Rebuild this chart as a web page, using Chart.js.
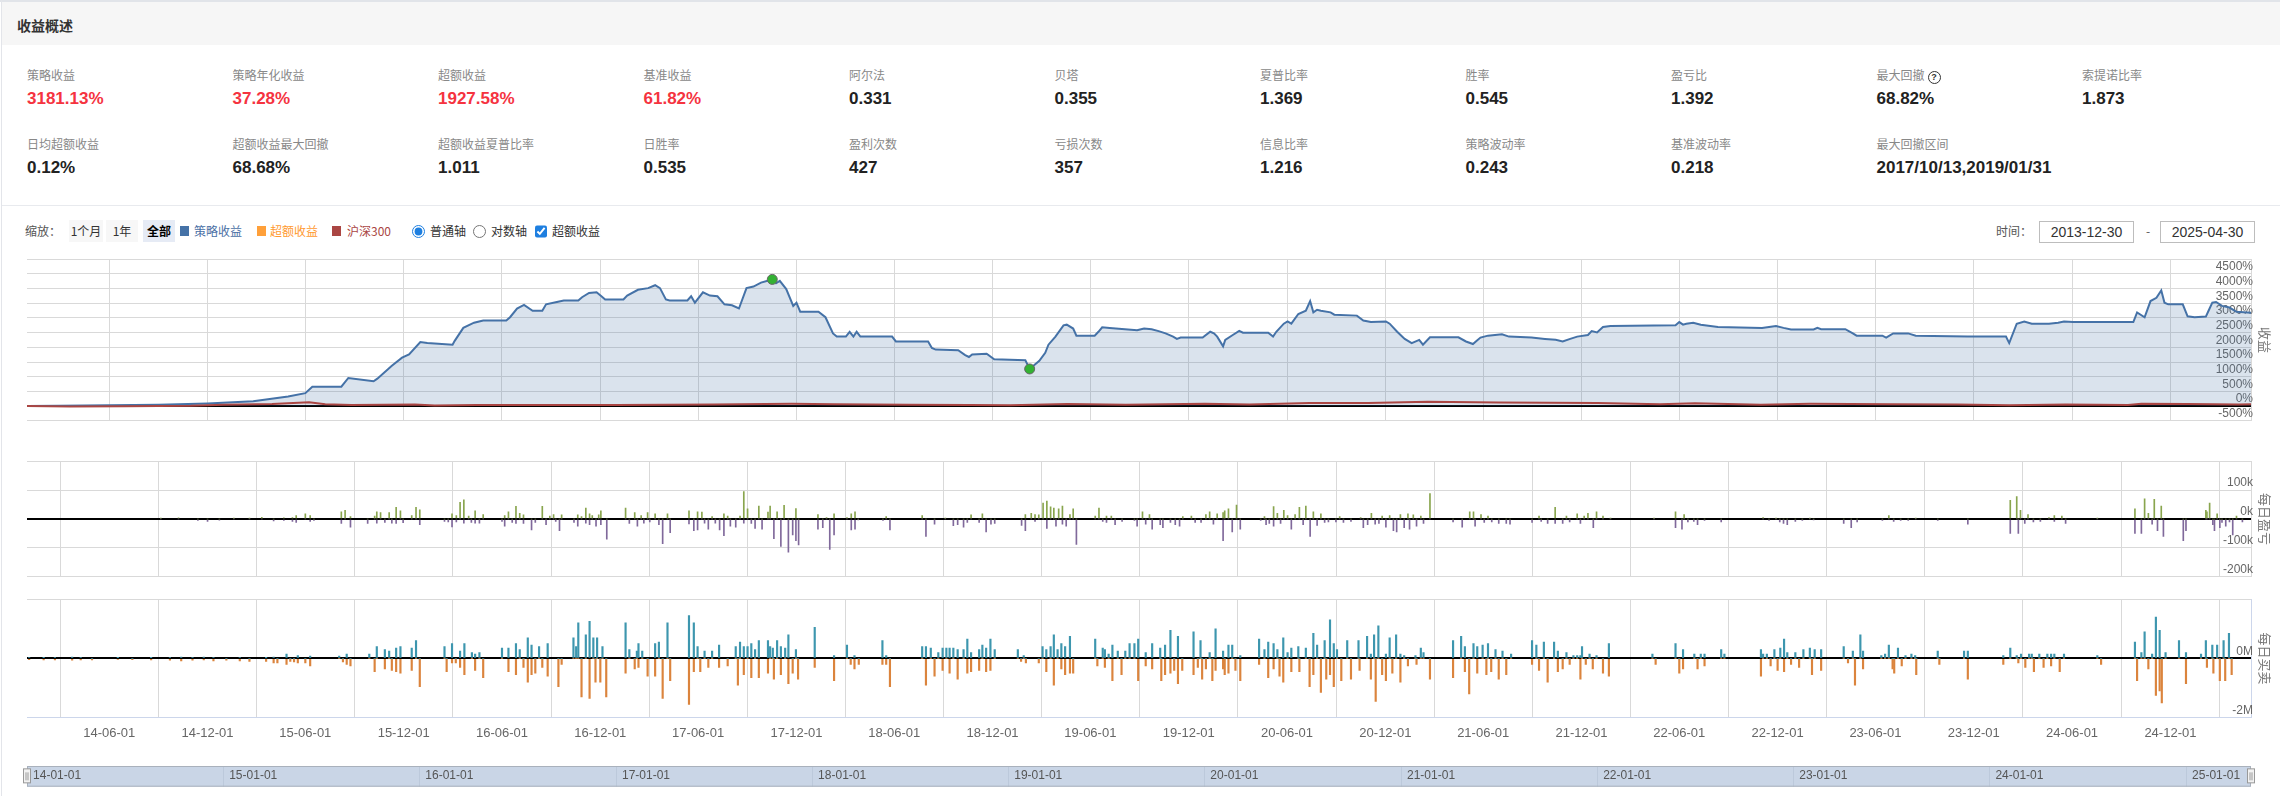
<!DOCTYPE html>
<html>
<head>
<meta charset="utf-8">
<script src="https://cdn.jsdelivr.net/npm/chart.js@4.4.1/dist/chart.umd.min.js"></script>
<style>
  body { margin: 0; background: #fff; font-family: "Noto Sans CJK SC", "Liberation Sans", sans-serif; }
  #page { position: relative; width: 2280px; height: 796px; overflow: hidden; background: #fff; }
  .abs { position: absolute; white-space: nowrap; }
  .frame-top { left: 0; top: 0; width: 2280px; height: 2px; background: #e1e4e9; }
  .frame-left { left: 1px; top: 0; width: 1px; height: 796px; background: #e3e5ea; }
  .head { left: 2px; top: 2px; width: 2278px; height: 43px; background: #f6f6f6; }
  .head span { position: absolute; left: 15px; top: 0; line-height: 46px; font-size: 14px; font-weight: bold; color: #333; }
  .sep { left: 2px; top: 205px; width: 2278px; height: 1px; background: #e8eaee; }
  .lbl { font-size: 12px; line-height: 16px; color: #888; }
  .val { font: bold 17px "Liberation Sans", "Noto Sans CJK SC", sans-serif; line-height: 20px; color: #222; }
  .val.red { color: #f5333f; }
  .help { display: inline-block; width: 11px; height: 11px; border: 1px solid #333; border-radius: 50%;
          font: bold 9px "Liberation Sans", sans-serif; line-height: 11px; text-align: center; color: #333;
          margin-left: 3px; vertical-align: 0px; }
  .tb { font-size: 12px; line-height: 22px; top: 220px; color: #333; }
  .btn { background: #f7f7f7; text-align: center; }
  .btn.on { background: #e6ebf5; font-weight: bold; color: #000; }
  .sq { width: 9px; height: 10px; top: 226px; }
  .box { top: 221px; height: 22px; border: 1px solid #bdbdbd; box-sizing: border-box; text-align: center;
         font: 14px "Liberation Sans", sans-serif; line-height: 20px; color: #333; }
  input { position: absolute; margin: 0; accent-color: #1e7fe0; }
  canvas { position: absolute; left: 0; }
</style>
</head>
<body>
<div id="page">
  <div class="abs frame-top"></div>
  <div class="abs head"><span>收益概述</span></div>
  <div class="abs frame-left"></div>
  <div id="stats"></div>
  <div class="abs sep"></div>

  <span class="abs tb" style="left:25px;color:#555">缩放：</span>
  <span class="abs tb btn" style="left:69px;width:34px">1个月</span>
  <span class="abs tb btn" style="left:106px;width:32px">1年</span>
  <span class="abs tb btn on" style="left:143px;width:32px">全部</span>
  <span class="abs sq" style="left:180px;background:#4572a7"></span>
  <span class="abs tb" style="left:194px;color:#4a6fa5">策略收益</span>
  <span class="abs sq" style="left:257px;background:#ffa03a"></span>
  <span class="abs tb" style="left:270px;color:#ff9a30">超额收益</span>
  <span class="abs sq" style="left:332px;background:#aa4643"></span>
  <span class="abs tb" style="left:347px;color:#aa4643">沪深300</span>
  <input type="radio" name="axis" checked style="left:412px;top:225px;width:13px;height:13px">
  <span class="abs tb" style="left:430px">普通轴</span>
  <input type="radio" name="axis" style="left:473px;top:225px;width:13px;height:13px">
  <span class="abs tb" style="left:491px">对数轴</span>
  <input type="checkbox" checked style="left:535px;top:225px;width:12px;height:13px">
  <span class="abs tb" style="left:552px">超额收益</span>

  <span class="abs tb" style="left:1996px;color:#555">时间：</span>
  <div class="abs box" style="left:2039px;width:95px">2013-12-30</div>
  <span class="abs tb" style="left:2146px;color:#555">-</span>
  <div class="abs box" style="left:2160px;width:95px">2025-04-30</div>

  <canvas id="mainChart" width="2280" height="180" style="top:250px"></canvas>
  <canvas id="pnlChart" width="2280" height="134" style="top:452px"></canvas>
  <canvas id="tradeChart" width="2280" height="170" style="top:590px"></canvas>
  <canvas id="navChart" width="2280" height="36" style="top:760px"></canvas>
</div>

<script>
// summary figures, two rows
const statRow1 = [
  ['策略收益', '3181.13%', true], ['策略年化收益', '37.28%', true], ['超额收益', '1927.58%', true],
  ['基准收益', '61.82%', true], ['阿尔法', '0.331'], ['贝塔', '0.355'], ['夏普比率', '1.369'],
  ['胜率', '0.545'], ['盈亏比', '1.392'], ['最大回撤', '68.82%', false, true], ['索提诺比率', '1.873']
]
const statRow2 = [
  ['日均超额收益', '0.12%'], ['超额收益最大回撤', '68.68%'], ['超额收益夏普比率', '1.011'],
  ['日胜率', '0.535'], ['盈利次数', '427'], ['亏损次数', '357'], ['信息比率', '1.216'],
  ['策略波动率', '0.243'], ['基准波动率', '0.218'], ['最大回撤区间', '2017/10/13,2019/01/31']
]

// x axis labels (half-year grid) and navigator labels (yearly)
const axisTickLabels = ['14-06-01', '14-12-01', '15-06-01', '15-12-01', '16-06-01', '16-12-01',
  '17-06-01', '17-12-01', '18-06-01', '18-12-01', '19-06-01', '19-12-01', '20-06-01', '20-12-01',
  '21-06-01', '21-12-01', '22-06-01', '22-12-01', '23-06-01', '23-12-01', '24-06-01', '24-12-01']
const navTickLabels = ['14-01-01', '15-01-01', '16-01-01', '17-01-01', '18-01-01', '19-01-01',
  '20-01-01', '21-01-01', '22-01-01', '23-01-01', '24-01-01', '25-01-01']

// 策略收益 (%)
const strategyLine = [
  ['2013-12-30', 0], ['2014-03-01', 12], ['2014-06-01', 30], ['2014-09-01', 45], ['2014-12-01', 90],
  ['2015-02-24', 165], ['2015-04-30', 330], ['2015-06-01', 440], ['2015-06-14', 660], ['2015-08-07', 660],
  ['2015-08-20', 957], ['2015-10-06', 847], ['2015-10-13', 935], ['2015-11-09', 1375], ['2015-11-28', 1650],
  ['2015-12-11', 1760], ['2016-01-01', 2178], ['2016-01-14', 2145], ['2016-03-01', 2090], ['2016-03-05', 2222],
  ['2016-03-21', 2662], ['2016-04-10', 2838], ['2016-04-27', 2915], ['2016-06-09', 2915], ['2016-06-16', 3025],
  ['2016-06-29', 3322], ['2016-07-12', 3443], ['2016-07-28', 3245], ['2016-08-15', 3245], ['2016-08-22', 3465],
  ['2016-09-11', 3542], ['2016-09-24', 3597], ['2016-10-21', 3597], ['2016-10-28', 3707], ['2016-11-10', 3850],
  ['2016-11-24', 3872], ['2016-12-03', 3740], ['2016-12-10', 3630], ['2017-01-13', 3630], ['2017-01-20', 3762],
  ['2017-02-09', 3960], ['2017-02-28', 4015], ['2017-03-13', 4114], ['2017-03-22', 4015], ['2017-04-02', 3630],
  ['2017-04-09', 3597], ['2017-05-12', 3597], ['2017-05-19', 3740], ['2017-05-26', 3520], ['2017-06-10', 3872],
  ['2017-06-23', 3762], ['2017-07-07', 3740], ['2017-07-20', 3465], ['2017-08-03', 3432], ['2017-08-16', 3322],
  ['2017-08-30', 4015], ['2017-09-12', 4070], ['2017-09-26', 4202], ['2017-10-17', 4312], ['2017-10-24', 4180],
  ['2017-10-31', 4260], ['2017-11-12', 3982], ['2017-11-25', 3410], ['2017-12-01', 3520], ['2017-12-08', 3212],
  ['2018-01-11', 3212], ['2018-01-24', 3025], ['2018-02-07', 2475], ['2018-02-14', 2365], ['2018-03-03', 2365],
  ['2018-03-10', 2530], ['2018-03-17', 2365], ['2018-03-23', 2530], ['2018-03-30', 2365], ['2018-05-28', 2365],
  ['2018-06-04', 2200], ['2018-08-03', 2200], ['2018-08-10', 1980], ['2018-08-17', 1925], ['2018-09-28', 1903],
  ['2018-10-11', 1738], ['2018-10-18', 1672], ['2018-10-24', 1760], ['2018-11-20', 1782], ['2018-12-04', 1595],
  ['2019-01-31', 1562], ['2019-02-08', 1265], ['2019-02-26', 1540], ['2019-03-09', 1815], ['2019-03-15', 2090],
  ['2019-03-28', 2365], ['2019-04-12', 2750], ['2019-04-18', 2772], ['2019-04-30', 2640], ['2019-05-06', 2398],
  ['2019-06-09', 2398], ['2019-06-16', 2530], ['2019-06-23', 2684], ['2019-07-07', 2662], ['2019-08-27', 2580],
  ['2019-09-09', 2640], ['2019-09-23', 2618], ['2019-10-06', 2552], ['2019-10-19', 2475], ['2019-11-02', 2365],
  ['2019-11-09', 2288], ['2019-11-16', 2332], ['2019-12-27', 2332], ['2020-01-10', 2530], ['2020-01-17', 2475],
  ['2020-01-23', 2365], ['2020-02-03', 2035], ['2020-02-07', 2255], ['2020-02-21', 2420], ['2020-03-04', 2563],
  ['2020-03-11', 2497], ['2020-04-27', 2497], ['2020-05-06', 2365], ['2020-05-12', 2530], ['2020-05-26', 2805],
  ['2020-06-02', 2882], ['2020-06-09', 2805], ['2020-06-22', 3135], ['2020-07-06', 3245], ['2020-07-14', 3575],
  ['2020-07-20', 3190], ['2020-07-27', 3278], ['2020-08-03', 3245], ['2020-08-21', 3190], ['2020-08-28', 3113],
  ['2020-10-09', 3080], ['2020-10-21', 2915], ['2020-11-04', 2860], ['2020-12-02', 2882], ['2020-12-09', 2805],
  ['2020-12-23', 2530], ['2021-01-06', 2288], ['2021-01-19', 2145], ['2021-02-02', 2255], ['2021-02-09', 2090],
  ['2021-02-22', 2343], ['2021-04-16', 2343], ['2021-04-30', 2200], ['2021-05-13', 2112], ['2021-05-20', 2222],
  ['2021-05-27', 2332], ['2021-06-10', 2398], ['2021-07-06', 2442], ['2021-07-19', 2365], ['2021-08-30', 2332],
  ['2021-09-24', 2288], ['2021-10-14', 2255], ['2021-10-27', 2200], ['2021-11-10', 2288], ['2021-11-23', 2365],
  ['2021-12-13', 2420], ['2021-12-20', 2552], ['2021-12-30', 2508], ['2022-01-10', 2695], ['2022-01-24', 2728],
  ['2022-05-25', 2750], ['2022-06-01', 2860], ['2022-06-08', 2772], ['2022-06-14', 2805], ['2022-06-27', 2838],
  ['2022-07-11', 2772], ['2022-08-12', 2695], ['2022-11-02', 2662], ['2022-11-15', 2695], ['2022-11-28', 2728],
  ['2022-12-12', 2662], ['2022-12-26', 2607], ['2023-02-06', 2607], ['2023-02-13', 2662], ['2023-02-20', 2618],
  ['2023-04-06', 2618], ['2023-04-20', 2475], ['2023-04-27', 2398], ['2023-06-14', 2398], ['2023-06-21', 2332],
  ['2023-07-04', 2475], ['2023-08-01', 2475], ['2023-08-15', 2398], ['2023-11-20', 2365], ['2024-01-30', 2365],
  ['2024-02-05', 2145], ['2024-02-19', 2805], ['2024-03-04', 2882], ['2024-03-18', 2805], ['2024-04-19', 2805],
  ['2024-05-06', 2838], ['2024-05-17', 2882], ['2024-06-03', 2860], ['2024-09-23', 2860], ['2024-09-30', 3190],
  ['2024-10-14', 3025], ['2024-10-25', 3575], ['2024-11-05', 3685], ['2024-11-14', 3938], ['2024-11-20', 3520],
  ['2024-11-27', 3465], ['2024-12-24', 3465], ['2025-01-02', 3058], ['2025-01-15', 3025], ['2025-02-05', 3047],
  ['2025-02-10', 3245], ['2025-02-17', 3520], ['2025-02-24', 3542], ['2025-03-07', 3410], ['2025-03-21', 3355],
  ['2025-04-03', 3212], ['2025-04-30', 3181]
]

// 沪深300 (%)
const benchmarkLine = [
  ['2013-12-30', 0], ['2014-03-20', -10], ['2014-07-01', -5], ['2014-10-31', 10], ['2014-12-31', 48],
  ['2015-03-31', 70], ['2015-06-08', 130], ['2015-07-08', 62], ['2015-08-26', 35], ['2015-12-22', 57],
  ['2016-01-28', 18], ['2016-04-15', 40], ['2016-07-01', 34], ['2016-12-31', 42], ['2017-06-30', 55],
  ['2017-11-22', 82], ['2018-02-09', 65], ['2018-06-29', 45], ['2018-10-18', 35], ['2019-01-03', 28],
  ['2019-04-19', 72], ['2019-08-06', 50], ['2019-12-31', 78], ['2020-03-23', 55], ['2020-07-13', 104],
  ['2020-10-30', 103], ['2021-02-18', 150], ['2021-06-30', 120], ['2021-12-31', 110], ['2022-04-26', 66],
  ['2022-06-30', 95], ['2022-10-31', 50], ['2023-01-31', 78], ['2023-06-30', 65], ['2023-10-31', 52],
  ['2024-02-05', 33], ['2024-05-20', 58], ['2024-09-13', 36], ['2024-10-08', 83], ['2024-12-31', 70],
  ['2025-04-07', 58], ['2025-04-30', 62]
]

// max drawdown start / end markers
const drawdownPoints = [['2017-10-17', 4312], ['2019-02-08', 1265]]

// 每日盈亏: [date, profit k, loss k]
const dailyPnl = [
  ['2014-09-05', 3, 0], ['2014-10-08', 4, 0], ['2014-11-13', 0, -5], ['2014-12-01', 0, -8], ['2014-12-23', 0, -4],
  ['2015-01-19', 3, 0], ['2015-02-17', 3, 0], ['2015-03-12', 6, 0], ['2015-04-03', 0, -7], ['2015-04-22', 4, -5],
  ['2015-05-08', 5, -8], ['2015-05-15', 12, -12], ['2015-06-01', 18, 0], ['2015-06-10', 12, -8], ['2015-06-17', 0, -5],
  ['2015-08-07', 25, -15], ['2015-08-14', 30, 0], ['2015-08-24', 8, -28], ['2015-09-25', 0, -15], ['2015-10-08', 10, 0],
  ['2015-10-12', 25, -14], ['2015-10-19', 22, 0], ['2015-10-27', 0, -12], ['2015-11-04', 22, 0], ['2015-11-09', 0, -14],
  ['2015-11-17', 40, -15], ['2015-11-25', 28, 0], ['2015-11-30', 0, -13], ['2015-12-16', 12, 0], ['2015-12-24', 40, 0],
  ['2015-12-31', 32, -20], ['2016-02-15', 0, -8], ['2016-02-22', 0, -10], ['2016-02-29', 18, -27], ['2016-03-08', 12, -10],
  ['2016-03-15', 58, 0], ['2016-03-22', 66, -14], ['2016-03-31', 10, 0], ['2016-04-05', 0, -12], ['2016-04-12', 28, -14],
  ['2016-04-20', 0, -14], ['2016-04-27', 15, 0], ['2016-06-01', 0, -8], ['2016-06-06', 12, -25], ['2016-06-13', 25, 0],
  ['2016-06-20', 0, -12], ['2016-06-27', 44, -15], ['2016-07-04', 20, 0], ['2016-07-11', 14, -15], ['2016-07-26', 0, -38],
  ['2016-08-02', 0, -12], ['2016-08-15', 44, 0], ['2016-08-22', 0, -20], ['2016-08-29', 10, 0], ['2016-09-05', 15, 0],
  ['2016-09-09', 0, -8], ['2016-09-16', 0, -40], ['2016-09-20', 14, 0], ['2016-10-13', 0, -12], ['2016-10-20', 14, -25],
  ['2016-10-27', 8, 0], ['2016-11-04', 38, -14], ['2016-11-11', 18, -20], ['2016-11-16', 12, 0], ['2016-11-23', 0, -25],
  ['2016-11-28', 14, 0], ['2016-12-02', 28, -20], ['2016-12-13', 0, -70], ['2017-01-17', 38, 0], ['2017-01-24', 0, -15],
  ['2017-02-03', 22, 0], ['2017-02-08', 0, -25], ['2017-02-15', 12, 0], ['2017-02-20', 0, -14], ['2017-02-27', 22, 0],
  ['2017-03-03', 0, -10], ['2017-03-13', 18, 0], ['2017-03-20', 0, -20], ['2017-03-27', 0, -85], ['2017-04-05', 18, 0],
  ['2017-04-10', 0, -47], ['2017-05-15', 28, -17], ['2017-05-24', 0, -40], ['2017-05-31', 25, -38], ['2017-06-08', 24, 0],
  ['2017-06-13', 0, -14], ['2017-06-20', 0, -35], ['2017-06-27', 8, 0], ['2017-07-03', 0, -14], ['2017-07-11', 0, -38],
  ['2017-07-19', 18, -58], ['2017-07-26', 10, 0], ['2017-07-31', 0, -25], ['2017-08-10', 0, -28], ['2017-08-18', 10, 0],
  ['2017-08-25', 95, -14], ['2017-09-01', 35, 0], ['2017-09-08', 0, -15], ['2017-09-15', 0, -33], ['2017-09-22', 45, 0],
  ['2017-09-28', 0, -35], ['2017-10-09', 24, 0], ['2017-10-13', 45, 0], ['2017-10-20', 0, -68], ['2017-10-26', 25, 0],
  ['2017-11-02', 0, -95], ['2017-11-08', 47, 0], ['2017-11-16', 0, -115], ['2017-11-24', 0, -55], ['2017-11-30', 36, -75],
  ['2017-12-05', 0, -90], ['2018-01-10', 15, -35], ['2018-01-19', 0, -30], ['2018-01-26', 5, 0], ['2018-02-01', 0, -105],
  ['2018-02-09', 18, -55], ['2018-03-05', 5, 0], ['2018-03-13', 18, -38], ['2018-03-20', 25, -35], ['2018-03-26', 0, -3],
  ['2018-05-11', 0, -5], ['2018-05-17', 8, 0], ['2018-05-24', 0, -38], ['2018-07-23', 12, 0], ['2018-07-30', 0, -60],
  ['2018-08-15', 0, -18], ['2018-09-04', 3, 0], ['2018-09-19', 0, -23], ['2018-09-27', 0, -20], ['2018-10-08', 0, -28],
  ['2018-10-15', 0, -12], ['2018-10-22', 14, 0], ['2018-11-06', 0, -12], ['2018-11-12', 18, 0], ['2018-11-19', 0, -45],
  ['2018-11-28', 0, -18], ['2018-12-05', 0, -15], ['2019-01-24', 0, -22], ['2019-01-31', 15, -40], ['2019-02-11', 20, 0],
  ['2019-02-18', 15, -8], ['2019-02-25', 14, 0], ['2019-03-05', 55, 0], ['2019-03-12', 62, -33], ['2019-03-19', 42, 0],
  ['2019-03-25', 38, 0], ['2019-03-29', 0, -25], ['2019-04-03', 35, 0], ['2019-04-10', 45, -18], ['2019-04-17', 0, -25],
  ['2019-04-24', 15, 0], ['2019-04-30', 35, 0], ['2019-05-06', 0, -88], ['2019-06-10', 10, 0], ['2019-06-17', 38, 0],
  ['2019-06-24', 0, -8], ['2019-07-01', 10, -12], ['2019-07-10', 10, 0], ['2019-07-17', 0, -20], ['2019-07-30', 0, -8],
  ['2019-08-22', 0, -5], ['2019-08-27', 0, -25], ['2019-09-06', 25, 0], ['2019-09-12', 0, -18], ['2019-09-19', 15, 0],
  ['2019-09-24', 0, -35], ['2019-10-09', 0, -20], ['2019-10-14', 0, -30], ['2019-10-28', 0, -12], ['2019-11-06', 0, -20],
  ['2019-11-14', 0, -25], ['2019-11-20', 8, 0], ['2019-12-06', 10, 0], ['2019-12-13', 0, -12], ['2019-12-24', 0, -12],
  ['2020-01-02', 15, 0], ['2020-01-09', 25, 0], ['2020-01-16', 0, -18], ['2020-01-23', 18, 0], ['2020-02-03', 22, -75],
  ['2020-02-06', 28, 0], ['2020-02-13', 35, 0], ['2020-02-20', 0, -45], ['2020-02-28', 48, 0], ['2020-03-06', 0, -35],
  ['2020-04-13', 0, -5], ['2020-04-20', 8, 0], ['2020-04-23', 0, -20], ['2020-04-29', 0, -15], ['2020-05-07', 43, -25],
  ['2020-05-14', 20, 0], ['2020-05-20', 0, -15], ['2020-05-26', 30, 0], ['2020-06-02', 12, 0], ['2020-06-09', 0, -35],
  ['2020-06-16', 15, 0], ['2020-06-24', 40, 0], ['2020-07-01', 0, -20], ['2020-07-06', 45, 0], ['2020-07-14', 0, -60],
  ['2020-07-20', 25, 0], ['2020-07-27', 0, -22], ['2020-08-03', 18, 0], ['2020-08-10', 0, -12], ['2020-08-17', 0, -10],
  ['2020-08-31', 0, -10], ['2020-09-07', 8, 0], ['2020-09-14', 0, -12], ['2020-09-28', 0, -8], ['2020-10-16', 5, 0],
  ['2020-10-21', 0, -30], ['2020-10-29', 0, -20], ['2020-11-05', 20, 0], ['2020-11-12', 0, -18], ['2020-11-19', 0, -15],
  ['2020-11-25', 10, 0], ['2020-12-02', 0, -28], ['2020-12-09', 12, 0], ['2020-12-16', 0, -40], ['2020-12-22', 0, -45],
  ['2020-12-29', 15, 0], ['2021-01-05', 0, -30], ['2021-01-12', 18, 0], ['2021-01-15', 0, -35], ['2021-01-22', 14, 0],
  ['2021-01-28', 0, -25], ['2021-02-05', 10, 0], ['2021-02-10', 0, -15], ['2021-02-22', 88, 0], ['2021-04-06', 0, -10],
  ['2021-04-23', 0, -28], ['2021-05-07', 25, 0], ['2021-05-14', 25, 0], ['2021-05-17', 0, -25], ['2021-05-28', 15, 0],
  ['2021-06-03', 0, -12], ['2021-06-10', 10, 0], ['2021-06-17', 0, -10], ['2021-06-30', 0, -15], ['2021-07-14', 0, -15],
  ['2021-07-21', 0, -18], ['2021-08-31', 0, -12], ['2021-09-13', 10, 0], ['2021-09-17', 0, -8], ['2021-09-29', 0, -15],
  ['2021-10-13', 40, -15], ['2021-10-27', 0, -15], ['2021-11-03', 10, 0], ['2021-11-09', 0, -10], ['2021-11-23', 18, 0],
  ['2021-11-29', 0, -15], ['2021-12-06', 10, 0], ['2021-12-13', 20, 0], ['2021-12-23', 0, -30], ['2021-12-29', 25, 0],
  ['2022-01-10', 10, 0], ['2022-01-24', 3, 0], ['2022-04-15', 3, 0], ['2022-05-25', 25, -30], ['2022-06-06', 0, -35],
  ['2022-06-10', 15, 0], ['2022-06-17', 0, -10], ['2022-06-28', 0, -8], ['2022-07-05', 0, -20], ['2022-07-18', 0, -5],
  ['2022-08-18', 0, -10], ['2022-11-04', 5, 0], ['2022-11-15', 0, -5], ['2022-11-28', 3, 0], ['2022-12-05', 0, -10],
  ['2022-12-12', 0, -15], ['2022-12-19', 0, -20], ['2023-01-03', 0, -8], ['2023-01-16', 0, -5], ['2023-01-30', 3, 0],
  ['2023-02-06', 0, -3], ['2023-04-03', 0, -15], ['2023-04-17', 0, -30], ['2023-04-28', 0, -10], ['2023-06-14', 0, -5],
  ['2023-06-26', 12, 0], ['2023-07-05', 0, -8], ['2023-07-18', 0, -5], ['2023-08-01', 0, -5], ['2023-08-15', 3, 0],
  ['2023-09-25', 0, -5], ['2023-11-20', 0, -18], ['2024-02-07', 65, -50], ['2024-02-19', 78, 0], ['2024-02-22', 0, -50],
  ['2024-02-26', 30, 0], ['2024-03-05', 0, -15], ['2024-03-11', 15, 0], ['2024-03-21', 0, -10], ['2024-04-03', 0, -8],
  ['2024-04-19', 5, 0], ['2024-04-29', 12, -8], ['2024-05-13', 10, 0], ['2024-05-20', 0, -15], ['2024-07-18', 3, 0],
  ['2024-09-26', 35, -50], ['2024-10-08', 0, -50], ['2024-10-14', 70, 0], ['2024-10-21', 20, 0], ['2024-10-28', 0, -18],
  ['2024-11-01', 68, 0], ['2024-11-07', 0, -40], ['2024-11-14', 45, 0], ['2024-11-18', 0, -60], ['2024-12-25', 0, -75],
  ['2024-12-30', 0, -40], ['2025-02-05', 30, 0], ['2025-02-07', 25, 0], ['2025-02-12', 55, 0], ['2025-02-18', 0, -20],
  ['2025-02-21', 0, -40], ['2025-02-26', 18, 0], ['2025-03-03', 0, -30], ['2025-03-07', 0, -12], ['2025-03-14', 0, -25],
  ['2025-03-21', 0, -10], ['2025-03-27', 0, -55], ['2025-04-03', 10, 0], ['2025-04-14', 0, -10]
]

// 每日买卖: [date, buy M, sell M]
const dailyTrade = [
  ['2014-01-03', 0.04, -0.04], ['2014-01-30', 0.03, -0.05], ['2014-02-20', 0.04, -0.05], ['2014-03-24', 0.05, -0.06],
  ['2014-04-09', 0.04, -0.05], ['2014-04-30', 0, -0.05], ['2014-06-17', 0.03, -0.03], ['2014-07-14', 0, -0.04],
  ['2014-08-18', 0.03, -0.05], ['2014-09-22', 0.04, -0.06], ['2014-10-13', 0.05, -0.08], ['2014-11-03', 0.04, -0.06],
  ['2014-11-24', 0.05, -0.05], ['2014-12-12', 0.04, -0.08], ['2015-01-05', 0, -0.06], ['2015-01-30', 0.04, -0.08],
  ['2015-02-17', 0, -0.1], ['2015-03-20', 0.02, -0.1], ['2015-04-03', 0.05, -0.15], ['2015-04-10', 0, -0.15],
  ['2015-04-27', 0.15, -0.2], ['2015-05-04', 0, -0.1], ['2015-05-11', 0, -0.12], ['2015-05-18', 0.1, -0.15],
  ['2015-06-01', 0, -0.15], ['2015-06-10', 0.08, -0.25], ['2015-08-03', 0.08, 0], ['2015-08-10', 0, -0.12],
  ['2015-08-17', 0.15, -0.2], ['2015-08-24', 0, -0.25], ['2015-09-28', 0.15, 0], ['2015-10-08', 0, -0.45],
  ['2015-10-12', 0.4, 0], ['2015-10-27', 0.3, -0.35], ['2015-11-04', 0.25, 0], ['2015-11-09', 0, -0.4],
  ['2015-11-17', 0.35, -0.45], ['2015-11-25', 0.4, -0.5], ['2015-12-16', 0.35, -0.4], ['2015-12-24', 0.6, 0],
  ['2015-12-31', 0, -0.95], ['2016-02-15', 0.4, 0], ['2016-02-19', 0, -0.45], ['2016-02-29', 0.5, -0.15],
  ['2016-03-07', 0, -0.15], ['2016-03-15', 0.25, -0.3], ['2016-03-23', 0.5, -0.55], ['2016-04-06', 0.2, 0],
  ['2016-04-12', 0.15, -0.4], ['2016-04-20', 0.2, 0], ['2016-04-27', 0, -0.65], ['2016-06-01', 0.35, 0],
  ['2016-06-13', 0.35, -0.45], ['2016-06-27', 0.5, -0.55], ['2016-07-04', 0.3, 0], ['2016-07-11', 0, -0.3],
  ['2016-07-19', 0.7, -0.8], ['2016-07-26', 0.45, -0.55], ['2016-08-02', 0, -0.5], ['2016-08-09', 0.4, 0],
  ['2016-08-15', 0, -0.3], ['2016-08-25', 0.5, -0.6], ['2016-09-14', 0, -0.95], ['2016-09-20', 0, -0.2],
  ['2016-10-12', 0.7, 0], ['2016-10-17', 0.4, 0], ['2016-10-21', 1.2, 0], ['2016-10-27', 0, -1.3],
  ['2016-11-04', 0.8, 0], ['2016-11-11', 1.25, -1.35], ['2016-11-18', 0.7, 0], ['2016-11-22', 0, -0.8],
  ['2016-11-25', 0.7, 0], ['2016-12-01', 0, -0.8], ['2016-12-05', 0.4, 0], ['2016-12-12', 0, -1.3],
  ['2017-01-17', 1.2, -0.5], ['2017-01-24', 0.3, 0], ['2017-02-03', 0, -0.35], ['2017-02-07', 0.25, 0],
  ['2017-02-10', 0.5, -0.3], ['2017-02-17', 0.25, 0], ['2017-02-27', 0, -0.6], ['2017-03-13', 0.5, -0.6],
  ['2017-03-20', 0.55, 0], ['2017-03-27', 0, -1.35], ['2017-04-05', 1.2, 0], ['2017-04-10', 0, -0.75],
  ['2017-05-15', 1.45, -1.55], ['2017-05-24', 1.2, -0.45], ['2017-05-31', 0.4, 0], ['2017-06-05', 0, -0.45],
  ['2017-06-13', 0.25, 0], ['2017-06-20', 0, -0.3], ['2017-06-27', 0.25, 0], ['2017-07-10', 0.45, -0.3],
  ['2017-07-26', 0, -0.25], ['2017-08-10', 0.4, 0], ['2017-08-14', 0, -0.9], ['2017-08-18', 0.55, 0],
  ['2017-08-25', 0.4, -0.55], ['2017-09-01', 0.4, 0], ['2017-09-08', 0.5, -0.65], ['2017-09-15', 0.3, 0],
  ['2017-09-22', 0.6, -0.65], ['2017-10-09', 0.6, -0.5], ['2017-10-13', 0.4, 0], ['2017-10-18', 0.35, 0],
  ['2017-10-20', 0, -0.7], ['2017-10-26', 0.6, 0], ['2017-11-02', 0.4, -0.55], ['2017-11-10', 0.35, 0],
  ['2017-11-16', 0.8, -0.85], ['2017-11-24', 0, -0.5], ['2017-11-30', 0.3, 0], ['2017-12-04', 0, -0.7],
  ['2018-01-04', 1.05, -0.3], ['2018-02-09', 0.1, -0.75], ['2018-03-05', 0.45, 0], ['2018-03-12', 0, -0.2],
  ['2018-03-19', 0.1, -0.35], ['2018-03-27', 0, -0.2], ['2018-05-10', 0.6, -0.2], ['2018-05-17', 0.1, -0.2],
  ['2018-05-24', 0, -0.95], ['2018-07-23', 0.4, 0], ['2018-07-30', 0.4, -0.9], ['2018-08-08', 0.35, 0],
  ['2018-08-15', 0, -0.6], ['2018-08-22', 0.2, 0], ['2018-08-30', 0.35, -0.4], ['2018-09-06', 0.35, 0],
  ['2018-09-12', 0.35, -0.5], ['2018-09-19', 0.35, 0], ['2018-09-27', 0.3, -0.7], ['2018-10-08', 0.3, 0],
  ['2018-10-15', 0.65, -0.5], ['2018-10-22', 0.2, -0.45], ['2018-11-06', 0.3, -0.4], ['2018-11-12', 0.45, 0],
  ['2018-11-19', 0.35, -0.45], ['2018-11-27', 0.65, -0.4], ['2018-12-05', 0.3, 0], ['2019-01-17', 0.3, 0],
  ['2019-01-23', 0, -0.1], ['2019-01-28', 0.1, 0], ['2019-02-01', 0, -0.15], ['2019-02-25', 0, -0.15],
  ['2019-03-04', 0.4, 0], ['2019-03-11', 0.3, -0.45], ['2019-03-19', 0.4, 0], ['2019-03-25', 0.8, -0.9],
  ['2019-04-01', 0.3, 0], ['2019-04-08', 0.5, -0.35], ['2019-04-15', 0.4, -0.55], ['2019-04-24', 0.75, -0.5],
  ['2019-04-30', 0, -0.5], ['2019-06-10', 0.65, 0], ['2019-06-14', 0, -0.25], ['2019-06-24', 0.35, 0],
  ['2019-06-28', 0.3, -0.3], ['2019-07-05', 0.15, 0], ['2019-07-12', 0.45, -0.75], ['2019-07-22', 0.25, 0],
  ['2019-07-29', 0, -0.55], ['2019-08-05', 0.25, 0], ['2019-08-13', 0.5, 0], ['2019-08-22', 0.5, 0],
  ['2019-08-29', 0.65, -0.75], ['2019-09-12', 0.2, -0.25], ['2019-09-24', 0.5, -0.35], ['2019-10-09', 0.35, 0],
  ['2019-10-11', 0, -0.75], ['2019-10-18', 0.45, -0.55], ['2019-10-28', 0.95, -0.5], ['2019-11-04', 0, -0.4],
  ['2019-11-11', 0.75, -0.85], ['2019-11-19', 0, -0.4], ['2019-12-10', 0.9, -0.55], ['2019-12-18', 0, -0.3],
  ['2019-12-23', 0.6, 0], ['2019-12-26', 0, -0.7], ['2020-01-02', 0, -0.35], ['2020-01-09', 0.2, 0],
  ['2020-01-14', 0, -0.75], ['2020-01-20', 1.0, -0.4], ['2020-02-03', 0.25, -0.35], ['2020-02-06', 0, -0.55],
  ['2020-02-13', 0.45, -0.5], ['2020-02-20', 0.45, 0], ['2020-02-26', 0, -0.4], ['2020-03-06', 0.1, -0.75],
  ['2020-04-10', 0.65, -0.2], ['2020-04-20', 0.3, 0], ['2020-04-27', 0.55, -0.65], ['2020-05-07', 0.5, -0.35],
  ['2020-05-14', 0.3, 0], ['2020-05-18', 0, -0.6], ['2020-05-25', 0.7, -0.8], ['2020-06-02', 0.2, 0],
  ['2020-06-09', 0.35, -0.45], ['2020-06-22', 0.4, 0], ['2020-06-24', 0, -0.45], ['2020-07-06', 0.35, 0],
  ['2020-07-13', 0, -0.95], ['2020-07-20', 0.85, -0.55], ['2020-07-27', 0.45, 0], ['2020-08-03', 0, -1.15],
  ['2020-08-10', 0.6, 0], ['2020-08-13', 0, -0.7], ['2020-08-20', 1.3, -0.55], ['2020-08-27', 0.5, -0.95],
  ['2020-09-02', 0.3, 0], ['2020-09-10', 0, -0.75], ['2020-09-21', 0.6, 0], ['2020-09-28', 0, -0.7],
  ['2020-10-12', 0.6, 0], ['2020-10-14', 0, -0.4], ['2020-10-28', 0.75, 0], ['2020-11-04', 0.15, -0.7],
  ['2020-11-10', 0.8, 0], ['2020-11-13', 0, -1.45], ['2020-11-18', 1.1, 0], ['2020-11-25', 0, -0.55],
  ['2020-12-02', 0.15, -0.75], ['2020-12-09', 0.7, 0], ['2020-12-14', 0, -0.5], ['2020-12-21', 0.8, 0],
  ['2020-12-29', 0.15, -0.8], ['2021-01-05', 0.1, 0], ['2021-01-12', 0, -0.25], ['2021-01-26', 0.1, 0],
  ['2021-01-28', 0, -0.2], ['2021-02-05', 0.35, 0], ['2021-02-10', 0.2, 0], ['2021-02-22', 0, -0.7],
  ['2021-04-06', 0.6, -0.65], ['2021-04-21', 0.75, 0], ['2021-04-28', 0.4, -0.45], ['2021-05-06', 0, -1.2],
  ['2021-05-14', 0.5, 0], ['2021-05-21', 0.4, -0.5], ['2021-05-31', 0.45, 0], ['2021-06-07', 0, -0.55],
  ['2021-06-10', 0.5, 0], ['2021-06-16', 0, -0.45], ['2021-06-24', 0.3, 0], ['2021-06-30', 0, -0.7],
  ['2021-07-07', 0.25, 0], ['2021-07-14', 0, -0.55], ['2021-07-23', 0.15, 0], ['2021-08-31', 0.6, -0.2],
  ['2021-09-08', 0.45, 0], ['2021-09-13', 0, -0.4], ['2021-09-22', 0.55, 0], ['2021-09-29', 0, -0.8],
  ['2021-10-11', 0.55, 0], ['2021-10-18', 0.25, -0.45], ['2021-10-27', 0, -0.35], ['2021-11-03', 0.2, 0],
  ['2021-11-09', 0, -0.2], ['2021-11-16', 0.1, 0], ['2021-11-23', 0.1, 0], ['2021-11-29', 0.1, -0.7],
  ['2021-12-02', 0.4, 0], ['2021-12-09', 0, -0.2], ['2021-12-16', 0.15, 0], ['2021-12-22', 0, -0.35],
  ['2021-12-29', 0.1, 0], ['2022-01-10', 0, -0.5], ['2022-01-21', 0.5, -0.6], ['2022-04-12', 0.15, 0],
  ['2022-04-18', 0, -0.2], ['2022-05-25', 0.5, 0], ['2022-06-01', 0, -0.5], ['2022-06-08', 0.3, -0.35],
  ['2022-06-29', 0.15, 0], ['2022-07-05', 0, -0.35], ['2022-07-11', 0.15, 0], ['2022-07-18', 0.15, -0.25],
  ['2022-08-18', 0.3, 0], ['2022-08-24', 0.15, 0], ['2022-10-31', 0.3, -0.6], ['2022-11-04', 0.15, 0],
  ['2022-11-11', 0.15, 0], ['2022-11-18', 0, -0.25], ['2022-11-25', 0.3, 0], ['2022-12-01', 0, -0.4],
  ['2022-12-06', 0.35, 0], ['2022-12-13', 0.65, -0.45], ['2022-12-19', 0.2, 0], ['2022-12-26', 0, -0.2],
  ['2023-01-03', 0.2, 0], ['2023-01-10', 0, -0.3], ['2023-01-18', 0.3, 0], ['2023-01-30', 0.35, 0],
  ['2023-02-03', 0, -0.55], ['2023-02-08', 0.3, 0], ['2023-02-20', 0.3, -0.4], ['2023-04-03', 0.4, 0],
  ['2023-04-11', 0, -0.15], ['2023-04-20', 0.25, 0], ['2023-04-24', 0, -0.9], ['2023-05-04', 0.8, 0],
  ['2023-05-09', 0.25, -0.35], ['2023-06-12', 0.1, 0], ['2023-06-19', 0.15, 0], ['2023-06-26', 0.45, 0],
  ['2023-07-03', 0, -0.35], ['2023-07-06', 0, -0.5], ['2023-07-13', 0.35, 0], ['2023-07-20', 0, -0.25],
  ['2023-07-27', 0.1, 0], ['2023-08-07', 0.15, 0], ['2023-08-14', 0.1, 0], ['2023-08-16', 0, -0.55],
  ['2023-09-25', 0.25, 0], ['2023-09-28', 0, -0.2], ['2023-11-13', 0.25, 0], ['2023-11-20', 0.25, -0.7],
  ['2024-01-25', 0.1, -0.2], ['2024-02-07', 0.35, 0], ['2024-02-19', 0.1, 0], ['2024-02-22', 0, -0.15],
  ['2024-02-27', 0.15, 0], ['2024-03-06', 0, -0.3], ['2024-03-13', 0.15, 0], ['2024-03-18', 0.15, 0],
  ['2024-03-22', 0, -0.45], ['2024-04-01', 0.15, 0], ['2024-04-09', 0, -0.3], ['2024-04-16', 0.15, 0],
  ['2024-04-23', 0.15, -0.25], ['2024-04-29', 0.15, 0], ['2024-05-09', 0, -0.45], ['2024-05-17', 0.15, 0],
  ['2024-07-18', 0.1, 0], ['2024-07-25', 0, -0.2], ['2024-09-26', 0.55, 0], ['2024-09-30', 0, -0.75],
  ['2024-10-08', 0.2, 0], ['2024-10-14', 0.9, 0], ['2024-10-21', 0, -0.35], ['2024-10-28', 0.15, 0],
  ['2024-11-04', 1.4, -1.25], ['2024-11-11', 0.95, -1.1], ['2024-11-15', 0, -1.5], ['2024-11-22', 0.2, 0],
  ['2024-12-17', 0.6, 0], ['2024-12-30', 0.2, -0.85], ['2025-01-27', 0.15, 0], ['2025-02-05', 0.6, 0],
  ['2025-02-07', 0, -0.3], ['2025-02-17', 0.45, 0], ['2025-02-19', 0, -0.5], ['2025-02-26', 0.45, 0],
  ['2025-03-03', 0, -0.75], ['2025-03-10', 0.6, 0], ['2025-03-13', 0, -0.75], ['2025-03-20', 0.85, 0],
  ['2025-03-25', 0, -0.55]
]

const BLUE = '#4572a7'
const RED = '#aa4643'
const GRID = '#d9d9d9'

const t = (s) => Date.parse(s + 'T00:00:00Z')
const X_MIN = t('2013-12-30')
const X_MAX = t('2025-04-30')

// ---- summary block ----
const stats = document.getElementById('stats')
const colX = (i) => 27 + i * 205.5
function addStat(row, top) {
  row.forEach(([label, value, red, help], i) => {
    const l = document.createElement('div')
    l.className = 'abs lbl'
    l.style.left = colX(i) + 'px'
    l.style.top = top + 'px'
    l.textContent = label
    if (help) {
      const h = document.createElement('span')
      h.className = 'help'
      h.textContent = '?'
      l.appendChild(h)
    }
    const v = document.createElement('div')
    v.className = 'abs val' + (red ? ' red' : '')
    v.style.left = colX(i) + 'px'
    v.style.top = (top + 22) + 'px'
    v.textContent = value
    stats.appendChild(l)
    stats.appendChild(v)
  })
}
addStat(statRow1, 67)
addStat(statRow2, 136)

// ---- charts ----
Chart.defaults.font.family = "'Liberation Sans', 'Noto Sans CJK SC', sans-serif"
Chart.defaults.font.size = 12
Chart.defaults.color = '#666'

const pts = (rows, col = 1) => rows.map((r) => ({ x: t(r[0]), y: r[col] }))

function timeAxis(showLabels) {
  return {
    type: 'linear',
    min: X_MIN,
    max: X_MAX,
    offset: false,
    afterBuildTicks: (scale) => { scale.ticks = axisTickLabels.map((l) => ({ value: t('20' + l) })) },
    afterFit: (scale) => { scale.height = showLabels ? 42.3 : 0 },
    grid: { color: GRID, drawTicks: false },
    border: { display: false },
    ticks: {
      display: showLabels,
      autoSkip: false,
      maxRotation: 0,
      padding: 8,
      font: { size: 13 },
      callback: (v, i) => axisTickLabels[i]
    }
  }
}

function valueAxis(min, max, step, fmt, title, extra = {}) {
  return {
    position: 'right',
    min, max,
    afterBuildTicks: (scale) => {
      const list = []
      for (let v = min; v <= max + 1e-9; v += step) list.push({ value: Math.round(v * 100) / 100 })
      scale.ticks = list
    },
    afterFit: (scale) => { scale.width = 29 },
    grid: {
      drawTicks: false,
      color: (ctx) => (ctx.tick.value === 0 ? '#000' : (extra.gridColor ? extra.gridColor(ctx.tick.value) : GRID)),
      lineWidth: (ctx) => (ctx.tick.value === 0 ? 2 : 1)
    },
    border: { display: true, color: extra.borderColor || GRID },
    ticks: {
      mirror: true,
      autoSkip: false,
      padding: 2,
      labelOffset: -7,
      callback: (v) => (v === max ? '' : fmt(v))
    },
    title: { display: true, text: title, color: '#777', font: { size: 13 }, padding: { top: 9, bottom: 0 } }
  }
}

const base = {
  responsive: false,
  animation: false,
  devicePixelRatio: 1,
  events: [],
  plugins: { legend: { display: false }, tooltip: { enabled: false } }
}

new Chart(document.getElementById('mainChart'), {
  type: 'line',
  data: {
    datasets: [
      {
        data: pts(strategyLine), borderColor: BLUE, borderWidth: 2, backgroundColor: 'rgba(69,114,167,0.2)',
        fill: 'origin', pointRadius: 0, tension: 0, order: 2
      },
      { data: pts(benchmarkLine), borderColor: RED, borderWidth: 2, pointRadius: 0, fill: false, order: 1 },
      {
        data: pts(drawdownPoints), showLine: false, pointRadius: 5, pointBackgroundColor: '#33b233',
        pointBorderColor: '#666', pointBorderWidth: 1, order: 0
      }
    ]
  },
  options: {
    ...base,
    layout: { padding: { left: 27, top: 5.7, bottom: 7.7, right: 0 } },
    scales: {
      x: timeAxis(false),
      y: valueAxis(-500, 5000, 500, (v) => v + '%', '收益')
    }
  }
})

new Chart(document.getElementById('pnlChart'), {
  type: 'bar',
  data: {
    datasets: [
      { data: pts(dailyPnl, 1), backgroundColor: '#89a54e', barThickness: 1, grouped: false },
      { data: pts(dailyPnl, 2), backgroundColor: '#80699b', barThickness: 1, grouped: false }
    ]
  },
  options: {
    ...base,
    layout: { padding: { left: 27, top: 6.3, bottom: 6.7, right: 0 } },
    scales: {
      x: timeAxis(false),
      y: valueAxis(-200, 200, 100, (v) => v + 'k', '每日盈亏')
    }
  }
})

new Chart(document.getElementById('tradeChart'), {
  type: 'bar',
  data: {
    datasets: [
      { data: pts(dailyTrade, 1), backgroundColor: '#3d96ae', barThickness: 1.5, grouped: false },
      { data: pts(dailyTrade, 2), backgroundColor: '#db843d', barThickness: 1.5, grouped: false }
    ]
  },
  options: {
    ...base,
    layout: { padding: { left: 27, top: 6.7, bottom: 0, right: 0 } },
    scales: {
      x: timeAxis(true),
      y: valueAxis(-2, 2, 2, (v) => v + 'M', '每日买卖', {
        borderColor: '#ccd6eb',
        gridColor: (v) => (v === -2 ? '#ccd6eb' : GRID)
      })
    }
  }
})

// navigator strip: the shaded band sits in the x-axis box, labels are the axis labels
const navBand = {
  id: 'navBand',
  beforeDraw(chart) {
    const { ctx, chartArea: a } = chart
    const xs = chart.scales.x
    ctx.save()
    ctx.fillStyle = '#c9d5e6'
    ctx.fillRect(a.left, xs.top, a.right - a.left, xs.bottom - xs.top)
    ctx.strokeStyle = 'rgba(80,100,130,0.10)'
    ctx.lineWidth = 1
    ctx.beginPath()
    for (const l of navTickLabels) {
      const x = Math.round(xs.getPixelForValue(t('20' + l))) - 0.5
      ctx.moveTo(x, xs.top); ctx.lineTo(x, xs.bottom)
    }
    ctx.stroke()
    ctx.strokeStyle = '#a9b1bc'
    ctx.strokeRect(a.left + 0.5, xs.top + 0.5, a.right - a.left - 1, xs.bottom - xs.top - 1)
    ctx.restore()
  },
  afterDraw(chart) {
    const { ctx, chartArea: a } = chart
    const xs = chart.scales.x
    const mid = (xs.top + xs.bottom) / 2
    ctx.save()
    ctx.lineWidth = 1
    for (const x of [a.left - 4, a.right - 4]) {
      ctx.fillStyle = '#f2f2f2'
      ctx.strokeStyle = '#999'
      ctx.fillRect(x + 0.5, mid - 7.5, 7, 14)
      ctx.strokeRect(x + 0.5, mid - 7.5, 7, 14)
      ctx.beginPath()
      ctx.moveTo(x + 3, mid - 4); ctx.lineTo(x + 3, mid + 4)
      ctx.moveTo(x + 5, mid - 4); ctx.lineTo(x + 5, mid + 4)
      ctx.stroke()
    }
    ctx.restore()
  }
}

new Chart(document.getElementById('navChart'), {
  type: 'line',
  data: { datasets: [] },
  options: {
    ...base,
    layout: { padding: { left: 27, top: 2, bottom: 9.3, right: 29 } },
    scales: {
      x: {
        type: 'linear',
        min: X_MIN,
        max: X_MAX,
        afterBuildTicks: (scale) => { scale.ticks = navTickLabels.map((l) => ({ value: t('20' + l) })) },
        afterFit: (scale) => { scale.height = 20.7 },
        grid: { display: false, drawTicks: false },
        border: { display: false },
        ticks: {
          autoSkip: false,
          maxRotation: 0,
          align: 'start',
          labelOffset: 5,
          padding: 2.8,
          color: '#555',
          callback: (v, i) => navTickLabels[i]
        }
      },
      y: { display: false, min: 0, max: 1 }
    }
  },
  plugins: [navBand]
})
</script>
</body>
</html>
